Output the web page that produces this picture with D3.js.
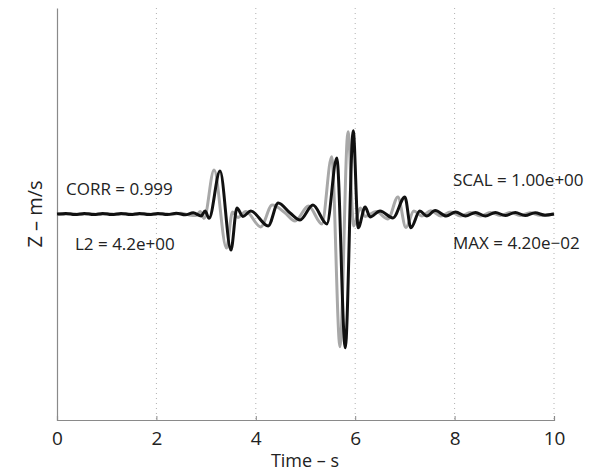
<!DOCTYPE html>
<html>
<head>
<meta charset="utf-8">
<script src="https://cdn.jsdelivr.net/npm/d3@7"></script>
<style>
  html, body { margin: 0; padding: 0; background: #fff; }
  svg { display: block; }
  text { font-family: "Open Sans", "DejaVu Sans", sans-serif; fill: #222; }
</style>
</head>
<body>
<svg id="chart" width="604" height="475"></svg>
<script>
// Time axis ticks (s)
const xTicks = [0, 2, 4, 6, 8, 10];
const gridTicks = [2, 4, 6, 8, 10];

// Vertical velocity traces: [time (s), velocity (m/s)] at turning points
const blackTrace = [
  [0.00, 0.0000], [0.18, 0.0003], [0.36, -0.0003], [0.55, 0.0003], [0.74, -0.0003],
  [0.92, 0.0003], [1.10, -0.0003], [1.29, 0.0003], [1.48, -0.0003], [1.66, 0.0003],
  [1.85, -0.0003], [2.03, 0.0003], [2.22, -0.0003], [2.40, 0.0004], [2.58, -0.0004],
  [2.74, 0.0006], [2.90, -0.0010], [2.98, 0.0015], [3.06, -0.0022], [3.28, 0.0217],
  [3.50, -0.0182], [3.62, 0.0030], [3.74, -0.0012], [3.90, 0.0015], [4.25, -0.0060],
  [4.45, 0.0055], [4.69, 0.0005], [4.89, -0.0030], [5.15, 0.0045], [5.43, -0.0050],
  [5.63, 0.0283], [5.80, -0.0675], [5.96, 0.0420], [6.06, -0.0070], [6.20, 0.0035],
  [6.30, -0.0015], [6.50, 0.0015], [6.76, -0.0020], [7.00, 0.0086], [7.12, -0.0070],
  [7.30, 0.0015], [7.44, -0.0010], [7.61, 0.0018], [7.83, -0.0010], [8.02, 0.0010],
  [8.22, -0.0010], [8.42, 0.0008], [8.62, -0.0010], [8.82, 0.0008], [9.02, -0.0008],
  [9.22, 0.0008], [9.42, -0.0008], [9.62, 0.0006], [9.82, -0.0006], [10.00, 0.0000]
];

const grayTrace = [
  [0.00, 0.0000], [0.09, -0.0003], [0.27, 0.0003], [0.46, -0.0003], [0.64, 0.0003],
  [0.83, -0.0003], [1.01, 0.0003], [1.20, -0.0003], [1.38, 0.0003], [1.57, -0.0003],
  [1.75, 0.0003], [1.94, -0.0003], [2.12, 0.0003], [2.31, -0.0003], [2.49, 0.0004],
  [2.66, -0.0005], [2.80, -0.0008], [2.88, 0.0013], [2.96, -0.0022], [3.16, 0.0222],
  [3.41, -0.0172], [3.53, 0.0010], [3.64, -0.0018], [3.80, 0.0012], [4.10, -0.0065],
  [4.33, 0.0045], [4.58, 0.0008], [4.79, -0.0035], [5.06, 0.0040], [5.33, -0.0050],
  [5.527, 0.0289], [5.694, -0.0670], [5.855, 0.0415], [5.97, -0.0060], [6.10, 0.0030],
  [6.20, -0.0012], [6.42, 0.0012], [6.66, -0.0025], [6.86, 0.0086], [7.02, -0.0068],
  [7.18, 0.0015], [7.34, -0.0010], [7.52, 0.0016], [7.72, -0.0010], [7.92, 0.0010],
  [8.12, -0.0010], [8.32, 0.0008], [8.52, -0.0010], [8.72, 0.0008], [8.92, -0.0008],
  [9.12, 0.0008], [9.32, -0.0008], [9.52, 0.0006], [9.72, -0.0006], [10.00, 0.0000]
];

// Fit statistics printed beside the traces
const statsLeft = ["CORR = 0.999", "L2 = 4.2e+00"];
const statsRight = ["SCAL = 1.00e+00", "MAX = 4.20e\u221202"];

const svg = d3.select("#chart");

const x = d3.scaleLinear().domain([0, 10]).range([57, 554]);
const y = d3.scaleLinear().domain([-0.104, 0.104]).range([420, 8]);

// dotted vertical grid
svg.append("g")
  .selectAll("line")
  .data(gridTicks)
  .join("line")
  .attr("x1", d => x(d)).attr("x2", d => x(d))
  .attr("y1", y.range()[1]).attr("y2", y.range()[0])
  .attr("stroke", "#b0b0b0")
  .attr("stroke-width", 1)
  .attr("stroke-dasharray", "1,4");

// bottom axis with inward ticks
const xAxis = d3.axisBottom(x).tickValues(xTicks).tickSize(-4).tickPadding(12).tickFormat(d3.format("d"));
const gx = svg.append("g").attr("transform", `translate(0,${y.range()[0]})`).call(xAxis);
gx.select(".domain").attr("stroke", "#8a8a8a").attr("stroke-width", 1.2);
gx.selectAll(".tick line").attr("stroke", "#8a8a8a");
gx.selectAll(".tick text")
  .attr("font-size", 19)
  .attr("fill", "#222")
  .attr("font-family", "'Open Sans', 'DejaVu Sans', sans-serif");

// left axis line, no ticks
const yAxis = d3.axisLeft(y).tickValues([]).tickSizeOuter(0);
const gy = svg.append("g").attr("transform", `translate(${x.range()[0]},0)`).call(yAxis);
gy.select(".domain").attr("stroke", "#8a8a8a").attr("stroke-width", 1.2);

const line = d3.line()
  .x(d => x(d[0]))
  .y(d => y(d[1]))
  .curve(d3.curveMonotoneX);

svg.append("path")
  .datum(grayTrace)
  .attr("d", line)
  .attr("fill", "none")
  .attr("stroke", "#a8a8a8")
  .attr("stroke-width", 3)
  .attr("stroke-linejoin", "round");

svg.append("path")
  .datum(blackTrace)
  .attr("d", line)
  .attr("fill", "none")
  .attr("stroke", "#111")
  .attr("stroke-width", 3)
  .attr("stroke-linejoin", "round");

// axis titles
svg.append("text")
  .attr("x", 305).attr("y", 467)
  .attr("text-anchor", "middle")
  .attr("font-size", 18)
  .text("Time \u2013 s");

svg.append("text")
  .attr("transform", "translate(42,214) rotate(-90)")
  .attr("text-anchor", "middle")
  .attr("font-size", 20)
  .text("Z \u2013 m/s");

// statistics annotations
svg.append("text").attr("x", 66).attr("y", 195).attr("font-size", 17).text(statsLeft[0]);
svg.append("text").attr("x", 75).attr("y", 250).attr("font-size", 17).text(statsLeft[1]);
svg.append("text").attr("x", 453).attr("y", 186).attr("font-size", 17).text(statsRight[0]);
svg.append("text").attr("x", 453).attr("y", 249).attr("font-size", 17).text(statsRight[1]);
</script>
</body>
</html>
